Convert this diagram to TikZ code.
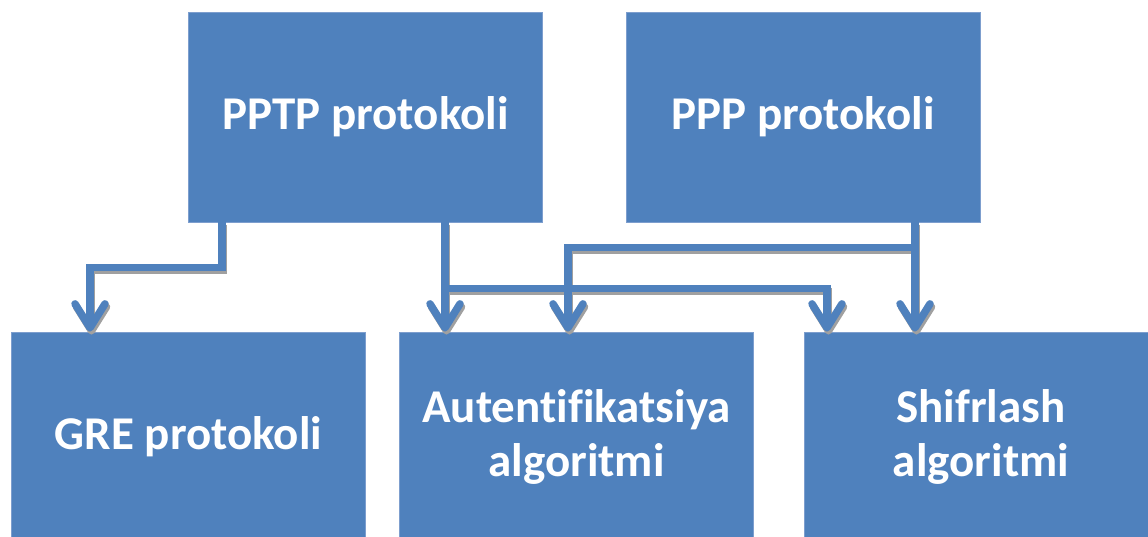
\documentclass[tikz,border=0pt]{standalone}
\usepackage{fontspec}
\setmainfont[RawFeature={-liga;-clig;-dlig;-calt}]{Carlito}
\usetikzlibrary{arrows.meta}
\definecolor{boxblue}{RGB}{79,129,189}
\definecolor{boxedge}{RGB}{125,158,206}
\definecolor{shade}{RGB}{160,160,160}
\tikzset{
  block/.style={rectangle, fill=boxblue, draw=boxedge, line width=0.8pt,
    minimum width=354pt, minimum height=210pt, inner sep=0pt,
    text=white, font=\fontsize{47}{54}\selectfont\bfseries, align=center},
  link/.style={line width=7.5pt, line join=miter,
    -{Straight Barb[round,length=24pt,width=30pt]}},
  linkshadow/.style={link, draw=shade, transform canvas={shift={(1.5pt,-3pt)}}},
  linkfront/.style={link, draw=boxblue}
}
\begin{document}
\begin{tikzpicture}[x=1pt,y=-1pt]
  \useasboundingbox (0,0) rectangle (1148,537);
  \clip (0,0) rectangle (1148,537);

  % boxes
  \node[block] (pptp) at (365.5,117) {PPTP protokoli};
  \node[block] (ppp)  at (803,117)   {PPP protokoli};
  \node[block] (gre)  at (188.5,437) {GRE protokoli};
  \node[block] (auth) at (576.5,437) {Autentifikatsiya\\algoritmi};
  \node[block] (enc)  at (981,437)   {Shifrlash\\algoritmi};

  % connectors: gray drop shadow underneath, blue line on top
  \draw[linkshadow] ([xshift=-143.5pt]pptp.south) -- ++(0,45) -| ([xshift=-98.5pt]gre.north);
  \draw[linkshadow] ([xshift=79.5pt]pptp.south) -- ([xshift=-131.5pt]auth.north);
  \draw[linkshadow] ([xshift=79.5pt]pptp.south) -- ++(0,66) -| ([xshift=-154pt]enc.north);
  \draw[linkshadow] ([xshift=112pt]ppp.south) -- ([xshift=-66pt]enc.north);
  \draw[linkshadow] ([xshift=112pt]ppp.south) -- ++(0,25) -| ([xshift=-8.5pt]auth.north);

  \draw[linkfront] ([xshift=-143.5pt]pptp.south) -- ++(0,45) -| ([xshift=-98.5pt]gre.north);
  \draw[linkfront] ([xshift=79.5pt]pptp.south) -- ([xshift=-131.5pt]auth.north);
  \draw[linkfront] ([xshift=79.5pt]pptp.south) -- ++(0,66) -| ([xshift=-154pt]enc.north);
  \draw[linkfront] ([xshift=112pt]ppp.south) -- ([xshift=-66pt]enc.north);
  \draw[linkfront] ([xshift=112pt]ppp.south) -- ++(0,25) -| ([xshift=-8.5pt]auth.north);
\end{tikzpicture}
\end{document}
